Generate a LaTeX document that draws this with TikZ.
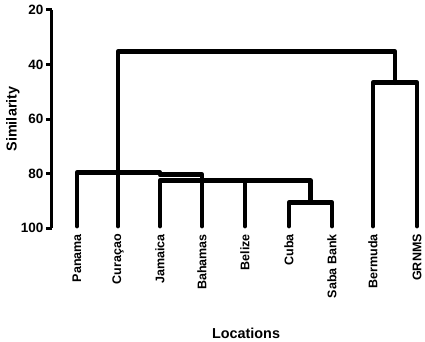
\documentclass[tikz,border=0pt]{standalone}
\usepackage{fontspec}
\setmainfont{Liberation Sans}
\usetikzlibrary{positioning}

\begin{document}
\begin{tikzpicture}[x=1pt, y=-1pt,
  every node/.style={font=\bfseries, inner sep=0pt},
  branch/.style={line width=4.8pt, line cap=round, line join=round},
  axisline/.style={line width=3.4pt},
  ticklab/.style={anchor=east, font=\fontsize{13.5}{14}\selectfont\bfseries},
  leaflab/.style={rotate=90, anchor=east, font=\fontsize{12.5}{13}\selectfont\bfseries},
  titlelab/.style={font=\fontsize{14.4}{15}\selectfont\bfseries}]
  \useasboundingbox (0,0) rectangle (425,342);
  % similarity axis
  \coordinate (ytop) at (51.7,10);
  \coordinate (ybot) at (51.7,228);
  \draw[axisline] (ytop) -- (ybot);
  \foreach \s in {20,40,...,100} {%
    \pgfmathsetmacro{\yy}{10 + (\s-20)*2.725}
    \draw[line width=3pt] (46,\yy) -- (51.7,\yy);
    \node[ticklab] (tick\s) at (43.5,\yy) {\s};}
  \node[titlelab, rotate=90] (ytitle) at (13,119) {Similarity};
  \node[titlelab] (xtitle) at (246,333) {Locations};
  % leaves
  \foreach \name/\x/\txt in {panama/77/Panama, curacao/118/Curaçao,
      jamaica/160/Jamaica, bahamas/202/Bahamas, belize/245/Belize,
      cuba/289/Cuba, saba/332/Saba Bank, bermuda/373/Bermuda, grnms/417/GRNMS} {%
    \coordinate (\name) at (\x,226);
    \node[leaflab] (\name-lab) at (\x,234) {\txt};}
  % merge points
  \coordinate (pb1) at (160,172.7);
  \coordinate (pb2) at (160,174.7);
  \coordinate (jb) at (245,180.8);
  \coordinate (cs) at (310.5,202.5);
  \coordinate (bg) at (395,82.7);
  \coordinate (top) at (395,51.7);
  % tree
  \draw[branch] (panama) |- (pb1) -- (pb2) -| (bahamas);
  \draw[branch] (jamaica) |- (jb) -| (cs);
  \draw[branch] (belize) -- (belize |- jb);
  \draw[branch] (cuba) |- (cs) -| (saba);
  \draw[branch] (curacao) |- (top) -- (bg);
  \draw[branch] (bermuda) |- (bg) -| (grnms);
\end{tikzpicture}
\end{document}
